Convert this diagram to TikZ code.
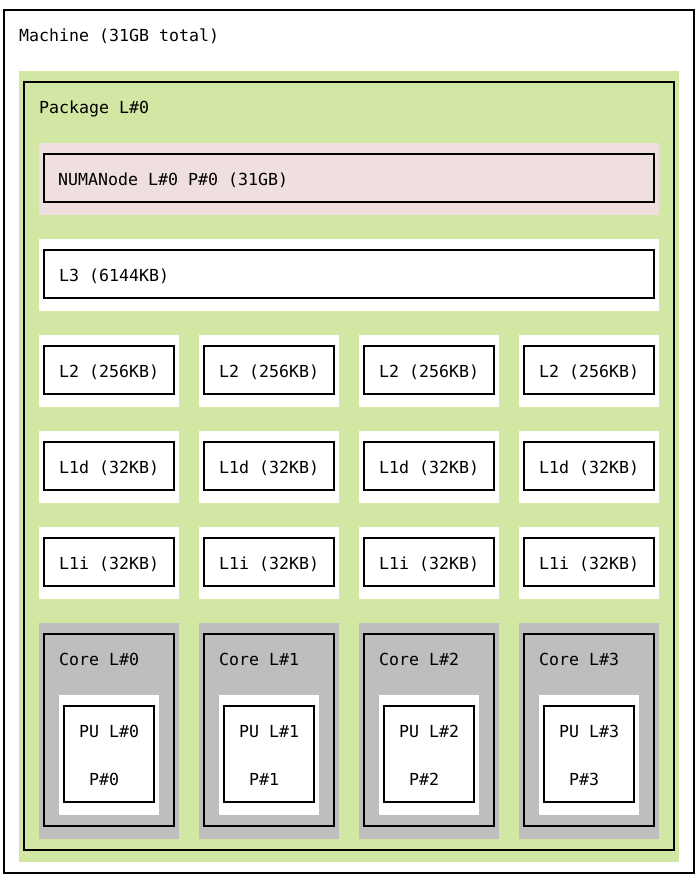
\documentclass[tikz,border=0pt]{standalone}
\usepackage{fontspec}
\setmonofont{DejaVu Sans Mono}
\definecolor{pkg}{HTML}{D2E7A4}
\definecolor{numa}{HTML}{EFDFDE}
\definecolor{corec}{HTML}{BEBEBE}
\begin{document}
\begin{tikzpicture}[x=1pt,y=-1pt,
 pad/.style={draw=none,inner sep=0pt,outer sep=0pt,anchor=north west},
 frame/.style={draw=black,line width=2pt,inner sep=0pt,outer sep=0pt,anchor=north west},
 lbl/.style={anchor=base west,inner sep=0pt,font=\ttfamily\fontsize{16.6}{20}\selectfont}]
\useasboundingbox (0,0) rectangle (698,887);
\fill[white] (0,0) rectangle (698,887);
% Machine
\node[frame,fill=white,minimum width=690pt,minimum height=863pt] (machine) at (4,10) {};
\node[lbl] (machinetxt) at (19,41) {Machine (31GB total)};
% Package
\node[pad,fill=pkg,minimum width=660pt,minimum height=791pt] (pkgpad) at (19,71) {};
\node[frame,minimum width=650pt,minimum height=768pt] (package) at (24,82) {};
\node[lbl] (packagetxt) at (39,113) {Package L\#0};
% NUMA
\node[pad,fill=numa,minimum width=620pt,minimum height=72pt] (numapad) at (39,143) {};
\node[frame,minimum width=610pt,minimum height=48pt] (numa) at (44,154) {};
\node[lbl] (numatxt) at (58,185) {NUMANode L\#0 P\#0 (31GB)};
% L3
\node[pad,fill=white,minimum width=620pt,minimum height=72pt] (l3pad) at (39,239) {};
\node[frame,minimum width=610pt,minimum height=48pt] (l3) at (44,250) {};
\node[lbl] (l3txt) at (59,281) {L3 (6144KB)};
% per-core
\foreach \i in {0,1,2,3}{
  \pgfmathsetmacro{\px}{39+160*\i}
  \pgfmathsetmacro{\fx}{44+160*\i}
  \pgfmathsetmacro{\tx}{59+160*\i}
  \pgfmathsetmacro{\ux}{59+160*\i}
  \pgfmathsetmacro{\vx}{64+160*\i}
  \pgfmathsetmacro{\wx}{79+160*\i}
  \pgfmathsetmacro{\qx}{89+160*\i}
  % L2
  \node[pad,fill=white,minimum width=140pt,minimum height=72pt] (l2pad\i) at (\px,335) {};
  \node[frame,minimum width=130pt,minimum height=48pt] (l2\i) at (\fx,346) {};
  \node[lbl] (l2txt\i) at (\tx,377) {L2 (256KB)};
  % L1d
  \node[pad,fill=white,minimum width=140pt,minimum height=72pt] (l1dpad\i) at (\px,431) {};
  \node[frame,minimum width=130pt,minimum height=48pt] (l1d\i) at (\fx,442) {};
  \node[lbl] (l1dtxt\i) at (\tx,473) {L1d (32KB)};
  % L1i
  \node[pad,fill=white,minimum width=140pt,minimum height=72pt] (l1ipad\i) at (\px,527) {};
  \node[frame,minimum width=130pt,minimum height=48pt] (l1i\i) at (\fx,538) {};
  \node[lbl] (l1itxt\i) at (\tx,569) {L1i (32KB)};
  % Core
  \node[pad,fill=corec,minimum width=140pt,minimum height=216pt] (corepad\i) at (\px,623) {};
  \node[frame,minimum width=130pt,minimum height=192pt] (core\i) at (\fx,634) {};
  \node[lbl] (coretxt\i) at (\tx,665) {Core L\#\i};
  % PU
  \node[pad,fill=white,minimum width=100pt,minimum height=120pt] (pupad\i) at (\ux,695) {};
  \node[frame,minimum width=90pt,minimum height=96pt] (pu\i) at (\vx,706) {};
  \node[lbl] (putxt\i) at (\wx,737) {PU L\#\i};
  \node[lbl] (pptxt\i) at (\qx,785) {P\#\i};
}
\end{tikzpicture}
\end{document}
